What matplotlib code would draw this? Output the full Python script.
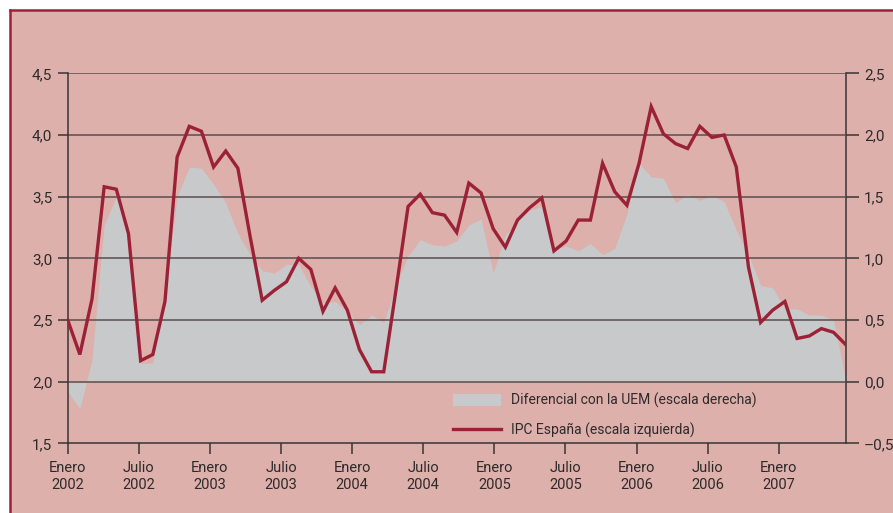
import matplotlib
matplotlib.use("Agg")
import matplotlib.pyplot as plt
import matplotlib.patches as mpatches
import matplotlib.lines as mlines
import numpy as np

plt.rcParams['font.family'] = ['Roboto', 'DejaVu Sans']

# IPC España, % (escala izquierda), mensual ene-2002 .. may-2007
ipc_espana = [
    2.50, 2.22, 2.67, 3.58, 3.56, 3.20, 2.17, 2.22, 2.65, 3.82, 4.07, 4.03,
    3.74, 3.87, 3.73, 3.18, 2.66, 2.74, 2.81, 3.00, 2.91, 2.57, 2.76, 2.58,
    2.26, 2.08, 2.08, 2.74, 3.42, 3.52, 3.37, 3.35, 3.21, 3.61, 3.53, 3.24,
    3.09, 3.31, 3.41, 3.49, 3.06, 3.14, 3.31, 3.31, 3.77, 3.54, 3.43, 3.77,
    4.23, 4.01, 3.93, 3.89, 4.07, 3.98, 4.00, 3.74, 2.93, 2.48, 2.58, 2.65,
    2.35, 2.37, 2.43, 2.40, 2.30,
]
# Diferencial con la UEM (escala derecha)
diferencial_uem = [
    -0.08, -0.22, 0.18, 1.27, 1.50, 1.15, 0.15, 0.15, 0.70, 1.50, 1.74, 1.73,
    1.60, 1.45, 1.20, 1.03, 0.90, 0.88, 0.95, 0.95, 0.77, 0.64, 0.65, 0.57,
    0.46, 0.54, 0.48, 0.78, 1.02, 1.15, 1.11, 1.10, 1.14, 1.27, 1.32, 0.88,
    1.19, 1.30, 1.39, 1.42, 1.07, 1.10, 1.06, 1.12, 1.03, 1.08, 1.36, 1.77,
    1.66, 1.65, 1.45, 1.52, 1.47, 1.51, 1.46, 1.23, 1.03, 0.78, 0.76, 0.59,
    0.59, 0.54, 0.54, 0.50, 0.01,
]
tick_labels = ['Enero\n2002', 'Julio\n2002', 'Enero\n2003', 'Julio\n2003',
               'Enero\n2004', 'Julio\n2004', 'Enero\n2005', 'Julio\n2005',
               'Enero\n2006', 'Julio\n2006', 'Enero\n2007']

BG = '#DDB0AC'
GRAY = '#C8C9CB'
RED = '#9B2236'
TXT = '#2e2a2a'
AXC = '#3a3333'

x = np.arange(len(ipc_espana))
# en el original las etiquetas van algo mas juntas que los meses de datos
tick_pos = np.arange(len(tick_labels)) * 5.85

fig = plt.figure(figsize=(8.93, 5.13), dpi=100)
fig.patch.set_facecolor('white')

# fondo rosado con borde rojo arriba e izquierda
fx0, fy1 = 10 / 893, 1 - 10 / 513
fig.patches.append(mpatches.Rectangle((fx0, 0), 1 - fx0, fy1, transform=fig.transFigure,
                                      facecolor=BG, edgecolor='none', zorder=-5))
fig.lines.append(mlines.Line2D([fx0, 1], [fy1, fy1], transform=fig.transFigure,
                               color=RED, lw=1.8, zorder=-4))
fig.lines.append(mlines.Line2D([fx0, fx0], [0, fy1], transform=fig.transFigure,
                               color=RED, lw=1.8, zorder=-4))

ax = fig.add_axes([67.7 / 893, 1 - 443.3 / 513, 778 / 893, 370 / 513])
ax2 = ax.twinx()
ax2.set_zorder(1)
ax.set_zorder(2)
ax.patch.set_visible(False)
ax2.patch.set_visible(False)

# area gris (escala derecha)
ax2.fill_between(x, 0, diferencial_uem, color=GRAY, lw=0)
ax2.set_ylim(-0.5, 2.5)
right_ticks = np.arange(-0.5, 2.51, 0.5)
ax2.set_yticks(right_ticks)
ax2.set_yticklabels([f'{v:.1f}'.replace('.', ',').replace('-', '\u2013') for v in right_ticks])

# linea roja (escala izquierda)
for v in np.arange(2.0, 4.51, 0.5):
    ax.axhline(v, color='#5a4e4e', lw=1.1, zorder=1)
ax.plot(x, ipc_espana, color=RED, lw=2.4, zorder=3, solid_joinstyle='miter')
ax.set_ylim(1.5, 4.5)
left_ticks = np.arange(1.5, 4.51, 0.5)
ax.set_yticks(left_ticks)
ax.set_yticklabels([f'{v:.1f}'.replace('.', ',') for v in left_ticks])
ax.set_xlim(0, len(x) - 1)
ax.set_xticks(tick_pos)
ax.set_xticklabels(tick_labels, linespacing=1.25)

for a in (ax, ax2):
    a.spines['top'].set_visible(False)
    for s in ('left', 'right', 'bottom'):
        a.spines[s].set_color(AXC)
        a.spines[s].set_linewidth(1.1)
ax.spines['right'].set_visible(False)
ax2.spines['left'].set_visible(False)
ax2.spines['bottom'].set_visible(False)

ax.tick_params(axis='y', length=7, width=1.1, color=AXC, labelsize=11, labelcolor=TXT, pad=4)
ax.tick_params(axis='x', length=8, width=1.1, color=AXC, labelsize=10.5, labelcolor=TXT, pad=5)
ax2.tick_params(axis='y', length=9, width=1.1, color=AXC, labelsize=11, labelcolor=TXT, pad=4)

h_gray = mpatches.Patch(color=GRAY, lw=0)
h_red = mlines.Line2D([], [], color=RED, lw=2.4)
leg = ax.legend([h_gray, h_red],
                ['Diferencial con la UEM (escala derecha)', 'IPC España (escala izquierda)'],
                loc='upper left', bbox_to_anchor=(0.495, 0.137), frameon=False,
                fontsize=10, handlelength=3.5, handleheight=0.9, handletextpad=0.7,
                labelspacing=1.05, borderaxespad=0, borderpad=0)
for t in leg.get_texts():
    t.set_color(TXT)

fig.savefig('out.png', dpi=100, facecolor=fig.get_facecolor())
